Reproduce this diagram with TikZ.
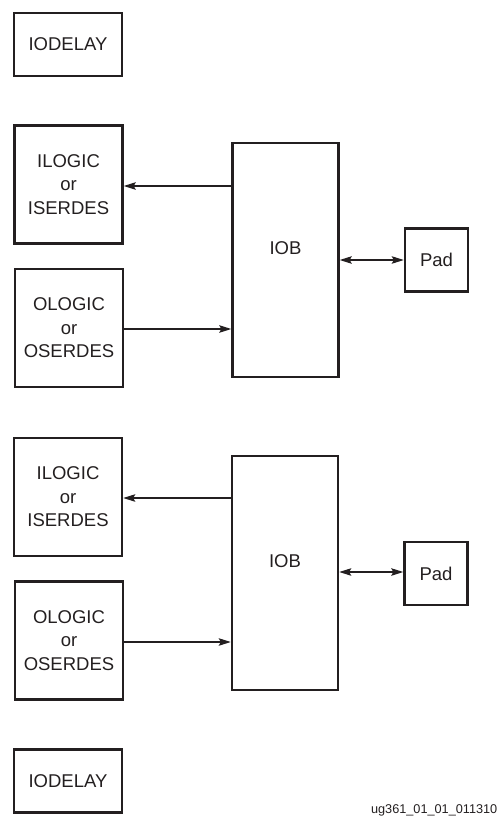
\documentclass[tikz,border=0pt]{standalone}
\usepackage{fontspec}
\setmainfont{Liberation Sans}
\usetikzlibrary{arrows.meta}
\definecolor{ink}{HTML}{231F20}
\begin{document}
\begin{tikzpicture}[x=1pt,y=-1pt,
  box/.style={draw=ink,line width=2.5pt,rectangle,inner sep=0pt,
    font=\fontsize{18.5}{23.5}\selectfont,align=center,text=ink},
  blk/.style={box,minimum width=108pt,minimum height=118pt},
  dly/.style={box,minimum width=108pt,minimum height=63pt},
  iobox/.style={box,minimum width=106pt,minimum height=234pt},
  padbox/.style={box,minimum width=63pt,minimum height=63pt},
  lbl/.style={font=\fontsize{18.5}{23.5}\selectfont,text=ink,inner sep=0pt},
  wire/.style={draw=ink,line width=1.1pt},
  tip/.style={-{Stealth[length=12pt,width=7.5pt,inset=2pt]}},
  bitip/.style={{Stealth[length=12pt,width=7.5pt,inset=2pt]}-{Stealth[length=12pt,width=7.5pt,inset=2pt]}}
]
\useasboundingbox (0,0) rectangle (498,817);

% delay blocks
\node[dly] (iod1) at (68,44.5) {IODELAY};
\node[dly] (iod2) at (68,781) {IODELAY};

% first I/O tile
\node[blk] (il1) at (68.5,184.5) {ILOGIC\\or\\ISERDES};
\node[blk] (ol1) at (69,328) {OLOGIC\\or\\OSERDES};
\node[iobox] (iob1) at (285.5,260) {};
\node[lbl,yshift=12pt] (iob1t) at (iob1.center) {IOB};
\node[padbox] (pad1) at (436.5,260) {Pad};

\draw[wire,tip] (iob1.west |- 0,186) -- (il1.east |- 0,186);
\draw[wire,tip] (ol1.east |- 0,329) -- (iob1.west |- 0,329);
\draw[wire,bitip] (iob1.east) -- (pad1.west);

% second I/O tile
\node[blk] (il2) at (68,497) {ILOGIC\\or\\ISERDES};
\node[blk] (ol2) at (69,640.5) {OLOGIC\\or\\OSERDES};
\node[iobox] (iob2) at (285,573) {};
\node[lbl,yshift=12pt] (iob2t) at (iob2.center) {IOB};
\node[padbox] (pad2) at (436,573.5) {Pad};

\draw[wire,tip] (iob2.west |- 0,498) -- (il2.east |- 0,498);
\draw[wire,tip] (ol2.east |- 0,642) -- (iob2.west |- 0,642);
\draw[wire,bitip] (iob2.east |- 0,572) -- (pad2.west |- 0,572);

% figure tag
\node[anchor=base east,inner sep=0pt,text=ink,font=\fontsize{12.7}{15}\selectfont] (tag) at (497.5,813) {ug361\_01\_01\_011310};
\end{tikzpicture}
\end{document}
